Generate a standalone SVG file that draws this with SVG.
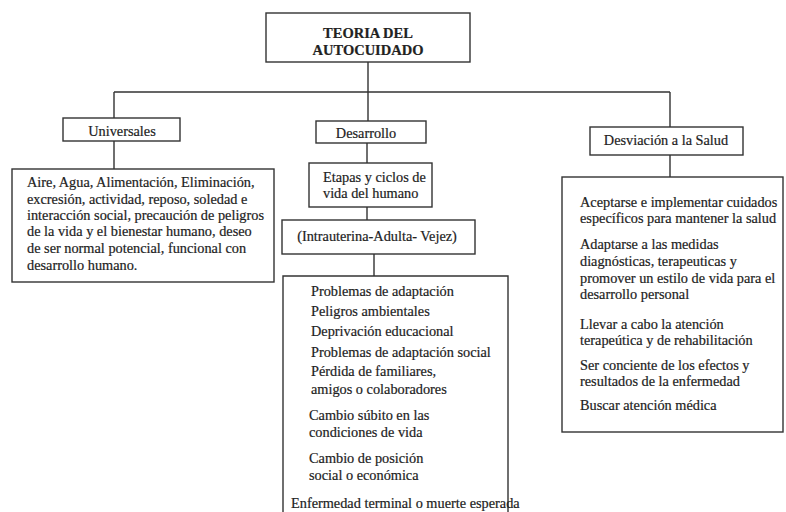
<svg xmlns="http://www.w3.org/2000/svg" width="786" height="512" viewBox="0 0 786 512">
<style>
.box{fill:#fff;stroke:#333;stroke-width:1.4}
.ln{stroke:#333;stroke-width:1.4;fill:none}
text{font-family:"Liberation Serif","Times New Roman",serif;fill:#222;stroke:#222;stroke-width:0.2;font-size:14.3px}
.t{font-weight:bold;font-size:14.5px;text-anchor:middle}
.c{text-anchor:middle}
</style>
<rect width="786" height="512" fill="#fff"/>
<g id="connectors">
<path class="ln" d="M368 62V92M114 92H670M114 92V118M114 141V169M368 92V121M367 143V163M367 207V220M374 254V276M670 92V127M670 155V177"/>
</g>
<g id="title">
<rect class="box" x="266" y="13" width="204" height="49"/>
<text class="t" x="368" y="38">TEORIA DEL</text>
<text class="t" x="368" y="55">AUTOCUIDADO</text>
</g>
<g id="universales">
<rect class="box" x="63" y="118" width="117" height="23"/>
<text class="c" x="122" y="136" font-size="14.6">Universales</text>
</g>
<g id="universales-detalle">
<rect class="box" x="12" y="169" width="262" height="113"/>
<text x="27" y="187" font-size="14.7">Aire, Agua, Alimentación, Eliminación,</text>
<text x="27" y="204" font-size="14.7">excresión, actividad, reposo, soledad e</text>
<text x="27" y="220" font-size="14.7">interacción social, precaución de peligros</text>
<text x="27" y="236" font-size="14.7">de la vida y el bienestar humano, deseo</text>
<text x="27" y="253" font-size="14.7">de ser normal potencial, funcional con</text>
<text x="27" y="270" font-size="14.7">desarrollo humano.</text>
</g>
<g id="desarrollo">
<rect class="box" x="316" y="121" width="110" height="22"/>
<text class="c" x="366" y="138" font-size="14.8">Desarrollo</text>
</g>
<g id="etapas">
<rect class="box" x="309" y="163" width="123" height="44"/>
<text x="323" y="182">Etapas y ciclos de</text>
<text x="323" y="198">vida del humano</text>
</g>
<g id="intrauterina">
<rect class="box" x="282" y="220" width="193" height="34"/>
<text class="c" x="377" y="241">(Intrauterina-Adulta- Vejez)</text>
</g>
<g id="problemas">
<path class="ln" d="M283 520V276H508V520"/>
<text x="311" y="296">Problemas de adaptación</text>
<text x="311" y="316">Peligros ambientales</text>
<text x="311" y="336">Deprivación educacional</text>
<text x="311" y="357">Problemas de adaptación social</text>
<text x="311" y="376">Pérdida de familiares,</text>
<text x="311" y="394">amigos o colaboradores</text>
<text x="309" y="420">Cambio súbito en las</text>
<text x="309" y="437">condiciones de vida</text>
<text x="309" y="463">Cambio de posición</text>
<text x="309" y="480">social o económica</text>
<text x="291" y="508">Enfermedad terminal o muerte esperada</text>
</g>
<g id="desviacion">
<rect class="box" x="590" y="127" width="153" height="28"/>
<text class="c" x="666" y="145" font-size="14.2">Desviación a la Salud</text>
</g>
<g id="desviacion-detalle">
<rect class="box" x="562" y="177" width="221" height="255"/>
<text x="580" y="207" font-size="14">Aceptarse e implementar cuidados</text>
<text x="580" y="223" font-size="14">específicos para mantener la salud</text>
<text x="580" y="249" font-size="14">Adaptarse a las medidas</text>
<text x="580" y="266" font-size="14">diagnósticas, terapeuticas y</text>
<text x="580" y="283" font-size="14">promover un estilo de vida para el</text>
<text x="580" y="299" font-size="14">desarrollo personal</text>
<text x="580" y="329" font-size="14">Llevar a cabo la atención</text>
<text x="580" y="345" font-size="14">terapeútica y de rehabilitación</text>
<text x="580" y="370" font-size="14">Ser conciente de los efectos y</text>
<text x="580" y="386" font-size="14">resultados de la enfermedad</text>
<text x="580" y="410" font-size="14">Buscar atención médica</text>
</g>
</svg>
